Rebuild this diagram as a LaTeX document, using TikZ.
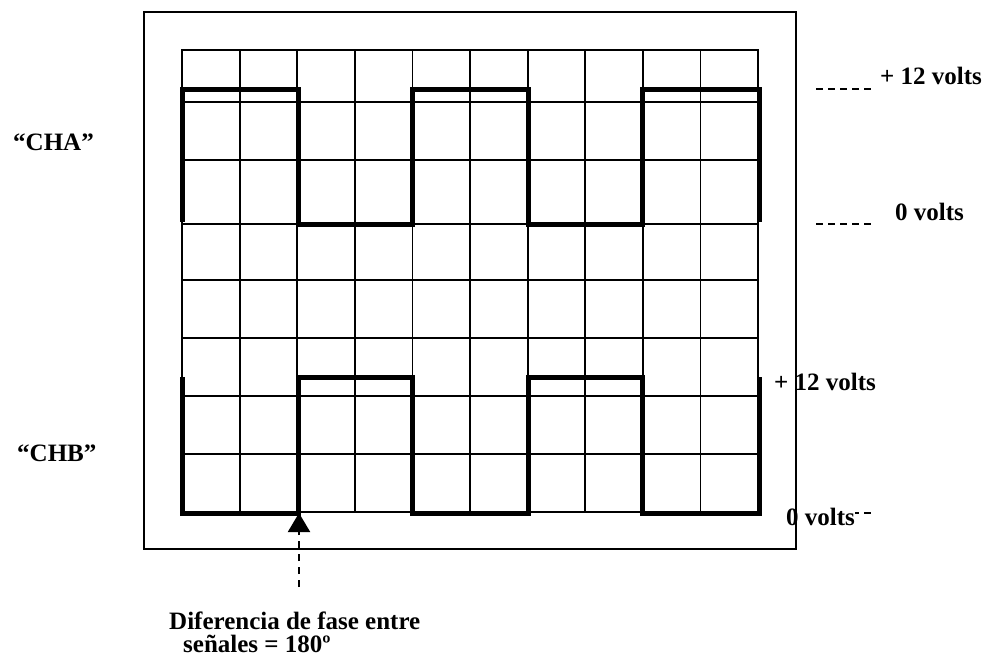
\documentclass[tikz,border=0pt]{standalone}
\usepackage{fontspec}
\setmainfont{Liberation Serif}
\usetikzlibrary{arrows.meta}
\begin{document}
\begin{tikzpicture}[x=1pt,y=-1pt,
  gridline/.style={line width=1.8pt, line cap=rect},
  wave/.style={line width=5pt, line join=miter},
  frameline/.style={line width=2pt},
  levelline/.style={line width=1.6pt, dash pattern=on 7pt off 5pt},
  lbl/.style={font=\fontsize{25}{23}\selectfont\bfseries, inner sep=0pt, anchor=base west},
  pointer/.style={line width=2pt, dash pattern=on 7pt off 6pt, -{Triangle[width=22pt,length=19pt]}},
]
\useasboundingbox (0,0) rectangle (986,662);
% grid
\foreach \i in {0,...,10} \draw[gridline] ({182+57.6*\i},50) -- ({182+57.6*\i},512);
\foreach \y in {50,102,160,224,280,338,396,454,512} \draw[gridline] (182,\y) -- (758,\y);
% CHA waveform
\draw[wave] (182,222) -- (182,89) -- (298,89) -- (298,224) -- (412,224) -- (412,89)
  -- (528,89) -- (528,224) -- (642,224) -- (642,89) -- (759,89) -- (759,222);
% CHB waveform
\draw[wave] (182,377) -- (182,513) -- (298,513) -- (298,377) -- (412,377) -- (412,513)
  -- (528,513) -- (528,377) -- (642,377) -- (642,513) -- (759,513) -- (759,377);
% level dashes
\coordinate (hiAa) at (816,89);  \coordinate (hiAb) at (873,89);
\coordinate (loAa) at (816,224); \coordinate (loAb) at (873,224);
\coordinate (hiBa) at (816,378); \coordinate (hiBb) at (873,378);
\coordinate (loBa) at (816,513); \coordinate (loBb) at (873,513);
\draw[levelline] (hiAa) -- (hiAb);
\draw[levelline] (loAa) -- (loAb);
\draw[levelline] (hiBa) -- (hiBb);
\draw[levelline] (loBa) -- (loBb);
% labels
\node[lbl] (cha) at (13,150) {“CHA”};
\node[lbl] (chb) at (17,461) {“CHB”};
\node[lbl] (hiA) at (880,84) {+ 12 volts};
\node[lbl] (zeroA) at (895,220) {0 volts};
\node[lbl, fill=white] (hiB) at (774,390) {+ 12 volts};
\node[lbl, fill=white] (zeroB) at (786,525) {0 volts};
\node[lbl] (diff1) at (169,629) {Diferencia de fase entre};
\node[lbl] (diff2) at (183,652) {señales = 180º};
% outer frame
\draw[frameline] (144,12) rectangle (796,549);
% pointer arrow
\coordinate (tip) at (299,513);
\coordinate (tail) at (299,587);
\draw[pointer] (tail) -- (tip);
\end{tikzpicture}
\end{document}
